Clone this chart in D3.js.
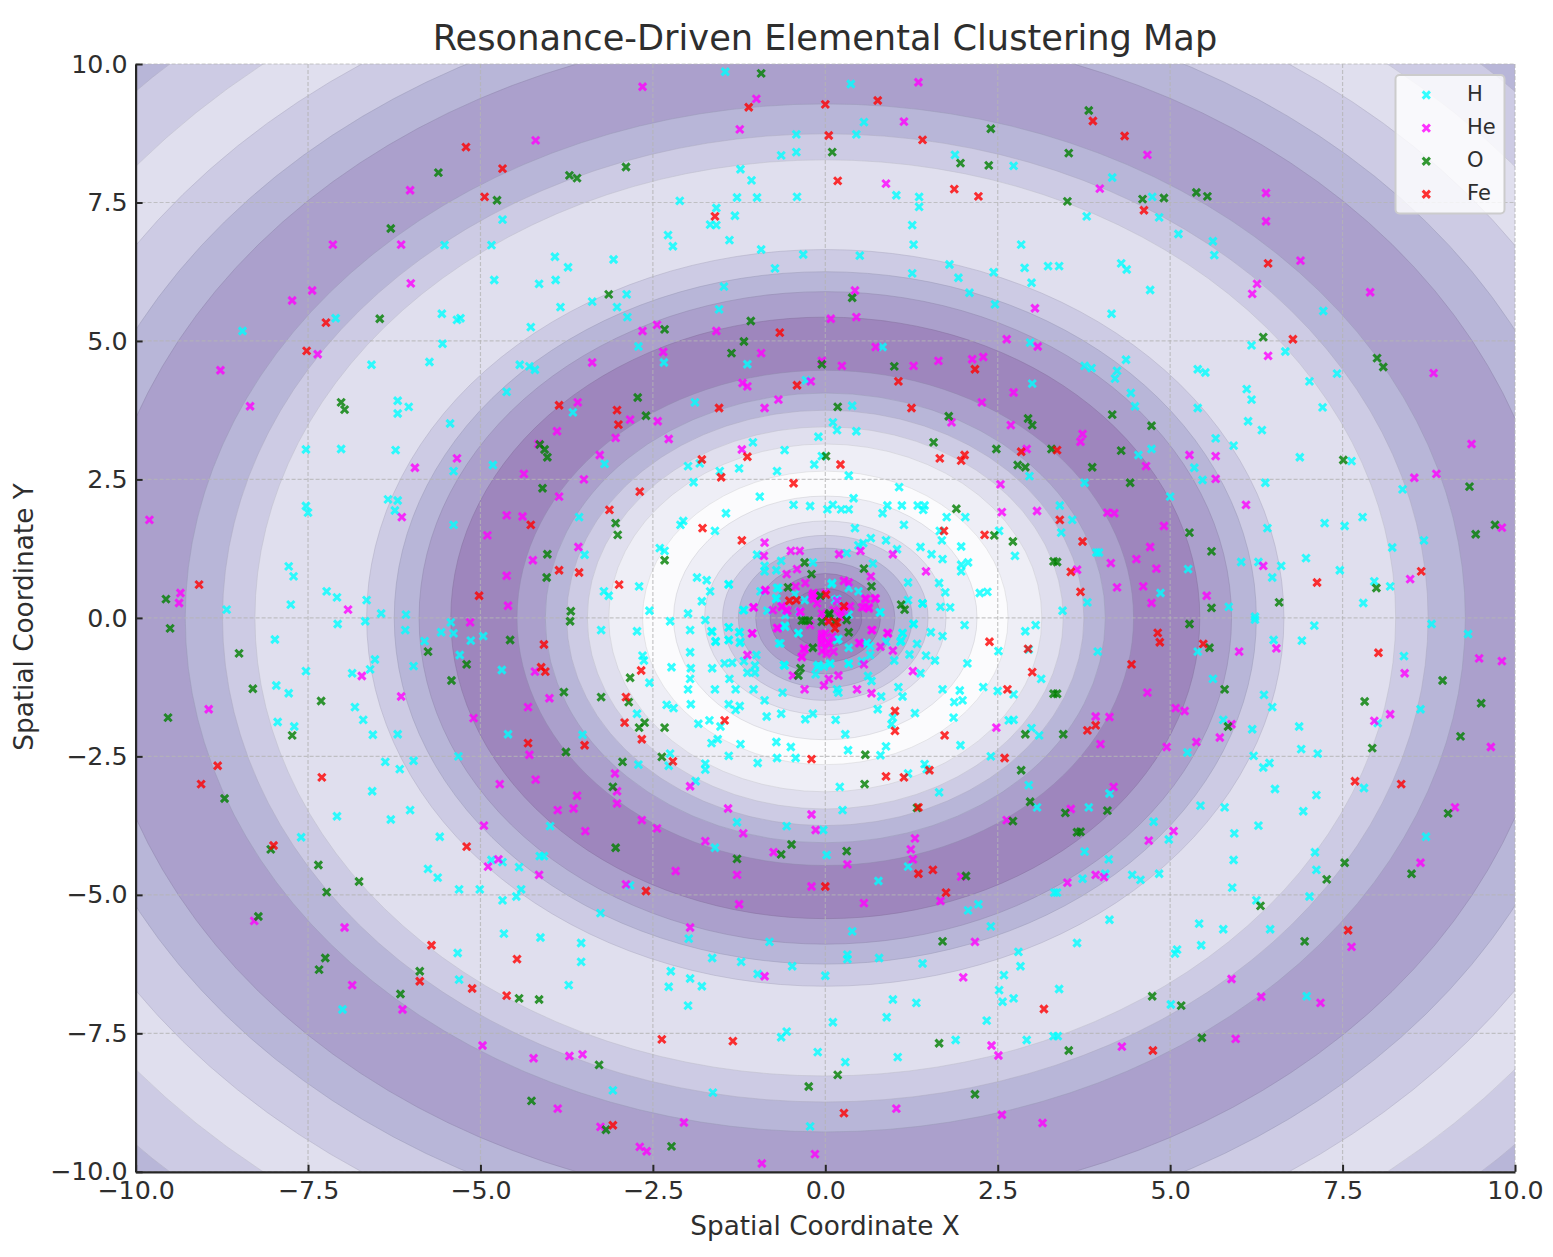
<!DOCTYPE html>
<html>
<head>
<meta charset="utf-8">
<title>Resonance-Driven Elemental Clustering Map</title>
<script src="https://cdn.jsdelivr.net/npm/d3@7"></script>
<style>
html, body { margin: 0; padding: 0; background: #fff; }
svg { display: block; }
text { font-family: "DejaVu Sans", sans-serif; fill: #2e2e2e; }
</style>
</head>
<body>
<svg id="chart" width="1553" height="1257"></svg>
<script>
const titleText = "Resonance-Driven Elemental Clustering Map";
const xLabel = "Spatial Coordinate X";
const yLabel = "Spatial Coordinate Y";
const tickValues = [-10, -7.5, -5, -2.5, 0, 2.5, 5, 7.5, 10];

// contour bands, outside to inside: outer radius and fill
const bandRadius = [14.3, 13.8, 12.9, 12.05, 11.27, 10.63, 9.28, 8.74, 8.27, 6.65, 6.25, 5.89, 5.43, 4.47, 4.06, 3.75, 3.45, 3.14, 2.65, 2.2, 1.75, 1.49, 1.26, 1.01, 0.8, 0.53];
const bandFill = ["#b8b6d8", "#cdcbe4", "#e0dfee", "#cdcbe4", "#b8b6d8", "#aba0cc", "#b8b6d8", "#cdcbe4", "#e0dfee", "#cdcbe4", "#b8b6d8", "#aba0cc", "#9e86bd", "#aba0cc", "#b8b6d8", "#cdcbe4", "#e0dfee", "#eeeef6", "#fbfbfd", "#eeeef6", "#e0dfee", "#cdcbe4", "#b8b6d8", "#aba0cc", "#9e86bd", "#957bb6"];

const hPoints = [
[-4.68,7.19],[-5.52,6.73],[-4.84,6.73],[-3.92,6.52],[-3.73,6.33],[-4.80,6.10],[-4.15,6.03],[-3.91,6.10],[-3.84,5.61],[-3.38,5.71],[-5.56,5.49],[-5.34,5.38],[-5.29,5.41],[-7.10,5.41],[-8.45,5.18],[-4.27,5.25],[-5.55,4.95],[-6.58,4.57],[-5.74,4.62],[-4.43,4.57],[-4.29,4.54],[-4.21,4.48],[-4.62,4.08],[-6.20,3.92],[-6.04,3.81],[-6.20,3.69],[-3.66,3.71],[-5.44,3.51],[-7.53,3.04],[-7.02,3.05],[-6.23,3.03],[-4.82,2.76],[-5.39,2.65],[-6.34,2.14],[-6.20,2.12],[-6.24,1.94],[-7.53,2.02],[-7.50,1.90],[-5.39,1.68],[-3.57,1.82],[-3.49,1.14],[-7.78,0.93],[-7.71,0.75],[-7.23,0.48],[-7.08,0.37],[-6.65,0.32],[-7.75,0.24],[-8.68,0.15],[-6.44,0.08],[-6.08,0.06],
[-1.45,9.86],[0.37,9.64],[0.56,8.95],[-0.42,8.73],[0.45,8.73],[-0.64,8.35],[-0.42,8.41],[1.88,8.36],[2.73,8.16],[-1.23,8.10],[-1.07,7.90],[1.03,7.63],[-1.28,7.59],[-0.99,7.59],[-0.41,7.60],[1.36,7.60],[-2.11,7.53],[1.36,7.42],[-1.58,7.40],[-1.31,7.26],[-1.67,7.10],[-1.58,7.09],[1.26,7.09],[-2.28,6.91],[-2.21,6.71],[-1.39,6.82],[1.28,6.74],[2.84,6.74],[-0.93,6.65],[-0.32,6.56],[0.50,6.54],[-3.07,6.47],[1.80,6.38],[-0.73,6.31],[1.26,6.22],[2.44,6.24],[2.89,6.32],[3.23,6.35],[1.93,6.14],[2.99,6.05],[-1.47,5.98],[-2.88,5.84],[2.09,5.87],[-3.02,5.61],[2.46,5.66],[-1.54,5.57],[-2.87,5.43],[-2.71,4.90],[0.83,4.89],[2.97,4.97],[-2.34,4.61],[-1.13,4.58],[-0.28,4.29],[3.00,4.23],[-1.89,3.89],[0.39,3.83],[0.11,3.53],[0.17,3.39],[0.45,3.37],[-0.10,3.27],[-1.05,3.17],[-0.59,3.03],[-0.05,2.92],[-3.20,2.78],[-1.99,2.74],[-1.82,2.79],[-1.53,2.65],[-1.25,2.70],[-0.70,2.65],[-0.16,2.77],[0.34,2.57],[-1.91,2.45],[2.96,2.56],[1.07,2.36],[-0.95,2.19],[0.41,2.16],[-0.46,2.04],[-0.22,2.02],[0.11,2.04],[0.03,1.96],[0.23,1.96],[0.34,1.96],[0.90,2.03],[0.83,1.89],[1.11,2.03],[1.34,2.03],[1.44,2.03],[1.42,1.95],[-1.44,1.89],[1.76,1.82],[2.03,1.82],[-2.06,1.75],[-2.10,1.68],[1.14,1.68],[-1.60,1.57],[0.43,1.62],[1.66,1.57],[2.52,1.57],[0.66,1.44],[0.88,1.40],[1.69,1.40],[-2.40,1.26],[-2.33,1.21],[1.97,1.29],[0.55,1.35],[0.48,1.31],[1.04,1.24],[1.38,1.28],[1.54,1.15],[2.75,1.12],[0.31,1.17],[-0.99,1.14],[1.70,1.06],[-0.64,1.03],[-0.88,0.94],[-0.18,1.00],[0.69,0.98],[1.97,0.96],[2.07,1.00],[1.97,0.84],[-0.88,0.84],[-0.71,0.86],[-1.86,0.73],[-1.72,0.68],[-1.40,0.61],[-2.70,0.57],[0.09,0.61],[1.20,0.64],[1.65,0.63],[-3.21,0.48],[-3.14,0.40],[-1.67,0.48],[-0.70,0.54],[0.34,0.54],[0.48,0.48],[1.74,0.46],[2.24,0.45],[2.35,0.47],[-1.79,0.30],[-0.71,0.34],[-0.30,0.32],[0.17,0.34],[1.20,0.32],[1.41,0.26],[-2.55,0.13],[-1.99,0.08],[-1.19,0.14],[1.67,0.20],[1.81,0.19],[0.79,0.10],[-0.84,0.13],[0.34,0.06],[-0.44,0.43],[-0.94,0.48],
[4.16,7.95],[4.74,7.60],[3.79,7.25],[4.84,7.23],[5.12,6.93],[5.62,6.80],[5.64,6.55],[3.39,6.35],[4.29,6.40],[4.37,6.29],[4.71,5.92],[4.15,5.49],[7.22,5.54],[6.18,4.92],[6.67,4.81],[3.76,4.55],[3.86,4.51],[4.36,4.66],[4.23,4.46],[4.20,4.32],[5.40,4.49],[5.51,4.43],[7.42,4.41],[7.02,4.27],[4.43,4.06],[6.11,4.13],[6.18,3.94],[4.49,3.82],[5.40,3.79],[7.21,3.80],[6.13,3.55],[6.33,3.39],[5.66,3.24],[5.92,3.11],[4.73,3.05],[4.54,2.94],[6.88,2.90],[7.63,2.83],[5.35,2.71],[5.47,2.49],[6.38,2.44],[3.76,2.44],[8.37,2.32],[5.00,2.19],[3.40,2.03],[3.58,1.77],[7.79,1.82],[7.24,1.71],[7.53,1.66],[6.41,1.62],[3.42,1.54],[8.68,1.40],[8.22,1.27],[3.93,1.18],[3.97,1.18],[6.03,1.01],[6.28,1.01],[6.97,1.08],[5.26,0.88],[6.61,0.94],[7.46,0.86],[6.48,0.73],[7.96,0.66],[8.19,0.57],[4.86,0.45],[3.80,0.28],[7.80,0.27],[5.85,0.20],[3.44,0.13],[6.23,0.02],
[-7.07,-0.11],[-6.67,-0.06],[-5.43,-0.08],[-6.09,-0.22],[-5.57,-0.26],[-5.39,-0.28],[-4.96,-0.33],[-5.14,-0.41],[-7.98,-0.39],[-5.81,-0.42],[-5.30,-0.67],[-6.53,-0.75],[-5.97,-0.87],[-6.60,-0.93],[-6.86,-1.00],[-7.53,-0.96],[-4.69,-0.94],[-7.96,-1.22],[-7.78,-1.36],[-6.82,-1.61],[-6.70,-1.84],[-7.94,-1.88],[-7.70,-1.96],[-6.56,-2.11],[-6.20,-2.10],[-4.60,-2.10],[-3.52,-2.11],[-5.32,-2.50],[-6.38,-2.60],[-5.97,-2.58],[-6.17,-2.73],[-6.57,-3.13],[-6.02,-3.47],[-7.08,-3.58],[-6.30,-3.64],[-7.60,-3.96],[-3.99,-3.76],[-5.59,-3.95],[-4.14,-4.30],[-4.08,-4.30],[-4.84,-4.37],[-4.68,-4.41],[-4.44,-4.50],[-5.76,-4.53],[-5.62,-4.69],[-5.31,-4.90],[-5.01,-4.90],[-4.41,-4.90],[-4.48,-5.03],[-4.68,-5.10],[-4.66,-5.70],[-4.13,-5.77],[-3.54,-5.87],[-5.33,-6.05],[-3.54,-6.21],[-5.31,-6.53],[-3.72,-6.63],[-7.00,-7.07],
[-3.25,-0.22],[-2.73,-0.24],[-2.25,-0.06],[-1.96,-0.22],[-1.65,-0.24],[-1.40,-0.17],[-1.25,-0.26],[-1.59,-0.42],[-1.40,-0.40],[-1.23,-0.43],[-0.59,-0.14],[-0.67,-0.46],[-0.39,-0.27],[0.19,-0.38],[0.34,-0.54],[0.60,-0.45],[0.65,-0.51],[0.88,-0.43],[1.12,-0.27],[1.28,-0.11],[1.33,-0.47],[1.10,-0.41],[1.53,-0.26],[1.70,-0.33],[2.02,-0.13],[2.90,-0.24],[3.05,-0.13],[-1.96,-0.62],[-2.65,-0.68],[-2.63,-0.77],[-2.23,-0.89],[-1.95,-0.91],[-1.64,-0.91],[-1.46,-0.82],[-1.35,-0.81],[-1.18,-0.78],[-1.00,-0.67],[-1.02,-0.86],[-1.02,-0.99],[-1.13,-0.99],[-0.59,-0.86],[-0.12,-0.88],[-0.02,-0.88],[0.07,-0.83],[0.34,-0.83],[0.53,-0.78],[0.65,-0.67],[1.00,-0.77],[1.22,-0.66],[1.46,-0.68],[1.59,-0.77],[1.38,-1.00],[2.06,-0.82],[2.51,-0.60],[2.95,-0.57],[3.13,-1.10],[-2.55,-1.17],[-1.96,-1.10],[-1.99,-1.29],[-1.60,-1.29],[-1.39,-1.10],[-1.30,-1.29],[-1.04,-1.29],[-0.62,-1.35],[-0.14,-1.02],[0.17,-1.29],[0.19,-1.35],[0.62,-1.05],[0.67,-1.14],[1.06,-1.25],[0.81,-1.42],[1.12,-1.42],[1.70,-1.29],[1.95,-1.31],[2.29,-1.25],[2.50,-1.32],[2.73,-1.38],[1.87,-1.52],[1.99,-1.49],[-0.88,-1.49],[-2.30,-1.57],[-2.20,-1.63],[-1.95,-1.56],[-1.40,-1.56],[-1.24,-1.59],[-1.30,-1.66],[-0.85,-1.78],[-0.64,-1.73],[-0.18,-1.73],[-0.29,-1.83],[0.15,-1.84],[0.76,-1.65],[1.30,-1.72],[1.86,-1.80],[0.98,-1.80],[0.96,-1.92],[-2.73,-1.73],[-1.84,-1.91],[-1.68,-1.85],[-1.52,-1.96],[2.66,-1.85],[2.73,-1.84],[2.99,-1.99],[3.10,-2.12],[0.29,-2.10],[-1.56,-2.19],[-1.65,-2.26],[-1.23,-2.28],[-0.71,-2.24],[-0.50,-2.33],[0.88,-2.32],[1.96,-2.30],[0.33,-2.39],[0.80,-2.48],[2.40,-2.50],[-2.25,-2.45],[-1.40,-2.49],[-0.70,-2.53],[-0.43,-2.53],[-0.98,-2.62],[-1.74,-2.63],[-1.74,-2.74],[-2.27,-2.67],[-2.71,-2.65],[1.44,-2.64],[1.20,-2.81],[1.47,-2.73],[-1.88,-2.95],[0.21,-3.05],[1.65,-3.15],[2.95,-3.02],[3.07,-3.42],[0.25,-3.47],[-1.28,-3.69],[-0.56,-3.76],[-0.03,-3.83],[-1.60,-4.15],[0.02,-4.28],[1.20,-4.49],[0.77,-4.75],[-2.83,-4.83],[-3.26,-5.33],[2.22,-5.17],[2.07,-5.28],[2.40,-5.57],[0.39,-5.66],[-1.98,-5.79],[-0.81,-5.85],[0.32,-6.08],[0.32,-6.16],[-1.64,-6.14],[0.78,-6.14],[-1.22,-6.21],[-0.48,-6.29],[1.41,-6.24],[2.80,-6.03],[2.83,-6.29],[-2.24,-6.38],[-0.98,-6.43],[0.00,-6.46],[2.59,-6.45],[-1.96,-6.51],[-2.27,-6.66],[-1.79,-6.65],[2.52,-6.72],[0.98,-6.89],[1.32,-6.95],[2.73,-6.87],[2.57,-6.93],[-1.99,-7.00],[0.89,-7.21],[2.34,-7.27],[0.11,-7.30],[-0.56,-7.47],[-0.64,-7.57],[1.89,-7.62],[2.92,-7.62],[-0.11,-7.84],[0.29,-8.02],[1.05,-7.93],[-3.08,-8.53],[-1.63,-8.57],[-0.22,-9.18],[3.31,-7.55],[3.32,-4.96],
[6.23,-0.03],[7.09,-0.14],[8.79,-0.11],[9.32,-0.29],[6.50,-0.40],[6.91,-0.41],[3.95,-0.61],[5.40,-0.61],[8.39,-0.69],[5.62,-1.10],[6.36,-1.39],[6.48,-1.61],[8.63,-1.65],[5.77,-1.84],[8.01,-1.90],[6.19,-2.01],[6.87,-1.96],[6.90,-2.37],[5.25,-2.43],[7.14,-2.45],[6.21,-2.49],[6.44,-2.62],[6.35,-2.70],[6.52,-3.09],[7.12,-3.20],[7.81,-3.07],[4.12,-3.17],[3.82,-3.42],[5.44,-3.39],[5.79,-3.42],[6.93,-3.49],[6.28,-3.75],[4.76,-3.68],[5.93,-3.89],[8.71,-3.95],[4.98,-4.00],[3.76,-4.22],[7.10,-4.23],[4.11,-4.36],[5.92,-4.37],[7.12,-4.55],[4.84,-4.62],[4.06,-4.62],[4.45,-4.64],[4.57,-4.73],[3.73,-4.71],[5.90,-4.87],[7.02,-5.03],[3.36,-4.96],[6.25,-5.10],[4.12,-5.45],[5.42,-5.52],[5.77,-5.62],[6.45,-5.62],[3.65,-5.87],[5.45,-5.91],[5.10,-5.99],[5.07,-6.06],[3.39,-6.70],[6.98,-6.83],[5.01,-6.98],[3.37,-7.55],
[0.10,0.63],[0.14,0.32],[0.17,-0.40],[0.60,-0.46],[-0.39,-0.28],[-0.58,-0.16],[-0.58,0.05],[-0.65,-0.46],[-0.38,0.11],[-0.71,0.36],[-0.68,0.54],[-1.18,0.14],[-1.40,0.60],[-1.40,-0.17],[-1.40,-0.40],[-1.24,-0.26],[-1.24,-0.45],[-1.59,-0.43],[-1.64,-0.25],[0.80,0.10],[1.28,-0.11],[1.12,-0.28],[1.09,-0.43],[1.41,0.26],[-0.60,-0.85],[-0.10,-0.85],[0.07,-0.82],[0.34,-0.82],[-1.74,-0.04]
];

const hePoints = [
[-4.20,8.62],[-6.02,7.72],[-7.14,6.74],[-6.15,6.74],[-6.01,6.04],[-7.44,5.91],[-7.73,5.73],[-7.36,4.76],[-8.77,4.47],[-8.34,3.82],[-3.59,3.89],[-3.89,3.37],[-4.16,3.14],[-5.34,2.88],[-5.95,2.71],[-4.37,2.60],[-3.50,2.50],[-3.86,2.19],[-6.14,1.82],[-4.62,1.85],[-4.39,1.83],[-9.80,1.77],[-4.90,1.49],[-3.58,1.28],[-4.24,1.04],[-4.62,0.76],[-9.35,0.45],[-9.37,0.27],[-4.60,0.22],[-6.92,0.15],[-3.38,4.61],
[-2.65,9.59],[1.35,9.67],[-1.00,9.37],[-1.24,8.82],[1.14,8.96],[0.88,7.84],[0.43,5.91],[3.04,5.59],[0.08,5.40],[0.45,5.43],[-2.44,5.29],[-2.65,5.18],[-1.58,5.18],[2.63,5.03],[3.08,4.90],[-2.35,4.80],[-0.93,4.78],[0.73,4.89],[-0.05,4.64],[0.24,4.55],[1.28,4.55],[1.64,4.64],[2.13,4.67],[2.29,4.71],[-0.21,4.27],[-1.20,4.24],[-1.13,4.18],[2.73,4.07],[-0.68,3.94],[2.27,3.89],[-0.88,3.79],[-2.83,3.58],[-2.43,3.55],[1.83,3.53],[2.69,3.48],[-3.04,3.25],[-2.27,3.23],[-3.27,2.94],[-1.21,3.04],[2.92,3.05],[2.54,2.41],[2.56,1.91],[3.07,1.93],[-0.88,1.36],[-0.89,1.12],[-0.50,1.21],[-0.37,1.21],[0.20,1.15],[0.51,1.21],[0.98,1.15],[1.46,0.84],[-0.56,0.79],[-0.41,0.88],[-0.29,0.63],[0.66,0.75],[0.27,0.67],[0.34,0.64],[-0.87,0.50],[-0.43,0.57],[-0.18,0.43],[0.58,0.35],[0.73,0.35],[-1.04,0.19],[-0.76,0.14],[0.53,0.19],[0.63,0.19],[-0.63,0.21],[-0.55,0.13],[-0.37,0.11],[-0.17,0.34],[0.17,0.31],[0.36,0.21],[0.22,0.11],[-0.05,0.08],
[4.67,8.36],[3.98,7.75],[6.39,7.67],[6.39,7.16],[6.89,6.45],[6.26,6.03],[6.19,5.85],[7.90,5.88],[6.42,4.73],[8.82,4.42],[3.73,3.32],[3.70,3.18],[4.65,2.74],[5.28,2.94],[5.66,2.92],[5.66,2.51],[9.37,3.14],[8.54,2.53],[8.86,2.60],[6.10,2.04],[4.09,1.90],[4.19,1.89],[4.91,1.66],[9.81,1.63],[4.71,1.28],[4.51,1.06],[4.14,0.99],[4.80,0.89],[3.65,0.87],[6.35,0.94],[8.48,0.70],[4.23,0.55],[4.61,0.57],[5.53,0.40],[4.73,0.27],
[-5.15,-0.08],[-6.72,-1.05],[-4.21,-0.97],[-8.94,-1.65],[-6.15,-1.42],[-4.00,-1.45],[-4.31,-1.61],[-5.10,-1.81],[-4.29,-2.47],[-4.72,-3.00],[-4.20,-2.92],[-3.60,-3.21],[-3.88,-3.47],[-3.65,-3.44],[-3.48,-3.85],[-4.95,-3.75],[-4.74,-4.36],[-4.89,-4.49],[-4.15,-4.64],[-8.28,-5.47],[-6.97,-5.59],[-6.86,-6.63],[-6.13,-7.07],[-4.97,-7.72],[-4.23,-7.95],[-3.71,-7.91],[-3.52,-7.88],[-3.88,-8.86],
[-1.06,-0.28],[-0.70,-0.18],[0.67,-0.22],[0.90,-0.27],[-0.05,-0.29],[-0.05,-0.41],[0.05,-0.45],[0.49,-0.45],[0.80,-0.52],[0.98,-0.59],[-0.30,-0.57],[-1.13,-0.67],[-0.34,-0.71],[0.12,-0.61],[0.56,-0.84],[1.27,-0.96],[0.19,-1.04],[-0.47,-1.04],[0.05,-1.10],[-0.02,-1.22],[-0.30,-1.29],[0.46,-1.29],[0.67,-1.36],[2.48,-1.98],[-1.96,-3.04],[-3.05,-2.81],[-3.02,-3.13],[-3.02,-3.35],[-1.41,-3.44],[-0.20,-3.55],[-0.14,-3.83],[-2.66,-3.65],[-2.44,-3.80],[-1.19,-3.89],[-1.74,-4.03],[-0.75,-4.23],[1.30,-3.98],[1.24,-4.18],[1.27,-4.36],[0.32,-4.45],[-2.17,-4.57],[-1.28,-4.64],[1.97,-4.67],[2.63,-3.65],[-2.89,-4.81],[-0.20,-4.85],[1.67,-5.11],[-1.25,-5.17],[0.56,-5.15],[-1.96,-5.59],[2.17,-5.85],[-0.88,-6.47],[2.00,-6.49],[2.41,-7.72],[2.51,-7.90],[1.03,-8.86],[2.56,-8.97],[3.15,-9.12],[-2.05,-9.11],[-3.26,-9.19],[-2.69,-9.55],[-2.59,-9.63],[-0.92,-9.85],[-0.15,-9.68],
[6.00,-0.61],[6.54,-0.55],[9.48,-0.73],[9.81,-0.78],[8.40,-1.00],[4.67,-1.35],[5.08,-1.63],[5.21,-1.68],[3.92,-1.78],[4.12,-1.79],[5.89,-1.92],[3.99,-2.28],[5.38,-2.24],[5.72,-2.16],[4.95,-2.33],[8.19,-1.74],[7.96,-1.86],[9.65,-2.33],[4.18,-3.05],[3.56,-3.45],[9.13,-3.42],[5.05,-3.85],[4.69,-4.02],[8.63,-4.42],[3.51,-4.78],[3.92,-4.64],[4.04,-4.68],[7.63,-5.94],[5.89,-6.52],[6.32,-6.84],[7.18,-6.95],[5.95,-7.60],[4.30,-7.74],
[0.27,0.14],[0.12,0.14],[0.22,0.02],[0.72,0.35],[0.59,0.34],[-0.17,0.45],[-0.19,0.39],[-0.63,0.20],[-0.57,0.14],[-1.04,0.19],[-0.87,0.50],[-0.22,-0.13],[-0.05,-0.34],[0.10,-0.34],[0.00,-0.04],[0.05,-0.46],[-0.12,0.26],[0.00,0.45],[-0.36,0.11],[-0.31,-0.55],[-0.34,-0.70],[0.50,-0.46],[0.68,-0.22],[0.91,-0.28],[-0.69,-0.19],[-1.06,-0.28],[0.56,0.20],[0.63,0.17],[0.00,-0.28],[-0.05,-0.46],[-0.05,-0.60],[0.00,-0.55],[0.02,-0.65]
];

const oPoints = [
[-5.61,8.04],[-3.71,7.99],[-3.60,7.94],[-4.76,7.54],[-6.30,7.03],[-6.46,5.40],[-7.02,3.89],[-6.97,3.76],[-4.14,3.13],[-4.07,3.04],[-4.03,2.90],[-4.10,2.34],[-4.03,1.15],[-4.04,0.73],[-9.56,0.34],[-3.69,0.12],
[-0.93,9.83],[2.40,8.83],[0.10,8.41],[1.96,8.21],[2.37,8.17],[-2.89,8.14],[0.39,5.78],[-3.14,5.84],[-1.08,5.36],[-2.33,5.21],[-1.18,4.99],[-1.36,4.78],[-0.05,4.58],[1.00,4.54],[-2.72,3.98],[-2.60,3.65],[0.18,3.81],[1.79,3.64],[2.94,3.60],[3.00,3.48],[1.57,3.17],[0.01,2.92],[2.48,3.05],[3.28,3.05],[2.79,2.76],[2.90,2.72],[1.90,1.97],[-3.04,1.71],[-3.01,1.50],[2.45,1.49],[2.72,1.38],[-2.33,1.04],[-0.30,1.00],[0.56,0.89],[-0.20,0.79],[0.67,0.57],[-0.54,0.55],[-0.07,0.40],[1.10,0.24],[1.15,0.15],[3.31,1.02],[0.06,0.08],
[3.82,9.16],[3.53,8.39],[5.38,7.68],[5.54,7.61],[3.51,7.52],[4.60,7.56],[4.91,7.58],[6.35,5.07],[8.00,4.69],[8.09,4.53],[4.16,3.67],[4.73,3.47],[4.29,3.02],[3.87,2.72],[7.51,2.85],[4.42,2.44],[9.34,2.37],[9.71,1.68],[9.43,1.51],[5.28,1.54],[5.60,1.20],[3.36,1.01],[7.99,0.54],[6.58,0.28],[5.60,0.18],
[-9.50,-0.19],[-3.70,-0.06],[-4.57,-0.40],[-5.76,-0.61],[-5.20,-0.84],[-8.50,-0.64],[-5.42,-1.13],[-8.30,-1.28],[-7.31,-1.50],[-9.53,-1.80],[-3.79,-1.34],[-7.73,-2.12],[-3.76,-2.42],[-8.71,-3.26],[-8.04,-4.18],[-7.35,-4.46],[-6.76,-4.76],[-7.23,-4.95],[-8.22,-5.39],[-7.25,-6.14],[-7.34,-6.35],[-5.88,-6.38],[-6.16,-6.79],[-4.44,-6.87],[-4.15,-6.89],[-4.26,-8.72],
[-0.29,-0.05],[0.34,-0.26],[-0.18,-0.54],[-0.36,-0.91],[-0.39,-1.04],[-2.83,-1.08],[-3.25,-1.43],[-2.85,-1.52],[-2.62,-1.89],[-2.70,-1.98],[-2.33,-1.98],[-2.94,-2.60],[-2.37,-2.51],[0.58,-2.47],[0.57,-3.00],[2.90,-2.10],[2.84,-2.75],[-3.08,-3.05],[1.33,-3.43],[2.97,-3.32],[2.72,-3.67],[-3.04,-4.15],[-0.49,-4.09],[-0.64,-4.27],[-1.28,-4.35],[0.31,-4.21],[2.04,-4.66],[1.70,-5.84],[3.31,-1.37],[1.65,-7.68],[-3.28,-8.07],[0.18,-8.25],[-0.24,-8.46],[2.17,-8.60],[-3.18,-9.24],[-2.23,-9.54],
[5.28,-0.11],[5.57,-0.54],[3.36,-1.37],[5.79,-1.29],[8.95,-1.13],[7.82,-1.51],[9.51,-1.54],[3.45,-2.10],[5.84,-1.96],[9.21,-2.14],[7.93,-2.35],[4.09,-3.48],[3.48,-3.52],[9.03,-3.53],[3.65,-3.87],[3.70,-3.86],[7.53,-4.42],[8.50,-4.62],[7.27,-4.72],[6.31,-5.20],[6.95,-5.84],[4.74,-6.83],[5.16,-7.00],[5.46,-7.58],[3.53,-7.81],
[0.05,0.05],[-0.05,-0.07],[0.14,-0.07],[0.31,-0.04],[-0.34,-0.05],[-0.24,-0.05]
];

const fePoints = [
[-5.21,8.50],[-4.68,8.11],[-4.94,7.60],[-7.24,5.33],[-7.52,4.82],[-3.86,3.84],[-4.27,1.68],[-9.08,0.60],[-3.86,0.86],[-3.57,0.82],[-5.02,0.40],
[-1.11,9.22],[0.00,9.27],[0.76,9.34],[0.05,8.71],[1.41,8.63],[0.18,7.89],[1.87,7.74],[2.22,7.61],[-1.60,7.25],[-0.66,5.15],[-0.41,4.20],[1.06,4.27],[2.17,4.49],[-1.54,3.79],[1.25,3.79],[-3.02,3.75],[-3.00,3.49],[-1.79,2.86],[-1.13,2.91],[0.22,2.77],[1.66,2.88],[2.02,2.94],[1.97,2.84],[2.84,3.00],[-1.51,2.54],[-0.46,2.43],[-2.69,2.28],[-3.13,1.95],[-1.78,1.62],[1.72,1.57],[2.31,1.50],[-1.21,1.40],[-2.99,0.60],[0.01,0.42],[-0.52,0.31],[-0.42,0.32],[0.27,0.21],
[3.88,8.97],[4.34,8.70],[4.62,7.36],[6.42,6.40],[6.78,5.03],[3.36,3.03],[3.40,1.77],[3.73,1.38],[3.56,0.83],[3.70,0.47],[7.13,0.64],[8.64,0.84],
[-4.08,-0.48],[-4.12,-0.89],[-4.06,-0.97],[-4.31,-2.26],[-3.49,-2.30],[-8.81,-2.67],[-9.05,-3.00],[-7.30,-2.88],[-5.20,-4.13],[-8.00,-4.11],[-5.71,-5.91],[-4.47,-6.16],[-5.88,-6.56],[-5.12,-6.69],[-4.62,-6.82],
[-2.67,-0.95],[-2.89,-1.43],[-2.91,-1.89],[-2.66,-2.19],[-2.21,-2.59],[-1.46,-1.85],[-0.20,-2.55],[1.01,-1.68],[1.01,-2.04],[1.73,-2.12],[0.88,-2.86],[1.14,-2.88],[1.51,-2.75],[2.38,-0.43],[2.94,-0.56],[3.00,-0.98],[2.64,-1.29],[2.60,-2.53],[1.35,-3.42],[1.56,-4.55],[1.35,-4.62],[1.75,-4.96],[-2.60,-4.93],[0.00,-4.85],[3.17,-7.06],[-2.37,-7.61],[-1.34,-7.64],[0.27,-8.94],[-3.08,-9.16],[0.14,-0.19],[0.05,-0.06],[0.17,-0.08],
[4.82,-0.27],[4.85,-0.44],[5.48,-0.47],[4.44,-0.84],[8.02,-0.63],[3.92,-1.94],[3.80,-2.03],[7.68,-2.95],[8.35,-3.00],[7.58,-5.64],[4.75,-7.81]
];

const seriesNames = ["H", "He", "O", "Fe"];
const seriesColors = ["#00ffff", "#ff00ff", "#008000", "#ff0000"];
const seriesPoints = [hPoints, hePoints, oPoints, fePoints];

const svg = d3.select("#chart");

const plotLeft = 135.6, plotRight = 1515, plotTop = 64, plotBottom = 1171.8;
const x = d3.scaleLinear().domain([-10, 10]).range([plotLeft, plotRight]);
const y = d3.scaleLinear().domain([-10, 10]).range([plotBottom, plotTop]);

svg.append("defs").append("clipPath").attr("id", "plot-clip")
    .append("rect")
    .attr("x", plotLeft)
    .attr("y", plotTop)
    .attr("width", plotRight - plotLeft)
    .attr("height", plotBottom - plotTop);

// Contour bands, biggest first so each one paints over the last
svg.append("g").attr("clip-path", "url(#plot-clip)")
    .selectAll("ellipse")
    .data(bandRadius)
    .join("ellipse")
    .attr("cx", x(0))
    .attr("cy", y(0))
    .attr("rx", d => x(d) - x(0))
    .attr("ry", d => y(0) - y(d))
    .attr("fill", (d, i) => bandFill[i])
    .attr("stroke", (d, i) => d3.color(bandFill[i]).darker(0.5))
    .attr("stroke-opacity", 0.7)
    .attr("stroke-width", 0.7);

// Grid
const grid = svg.append("g").attr("stroke", "#b4b4b4").attr("stroke-opacity", 0.75)
    .attr("stroke-width", 1.2).attr("stroke-dasharray", "4,2");
grid.selectAll("line.v").data(tickValues).join("line").attr("class", "v")
    .attr("x1", d => x(d)).attr("x2", d => x(d))
    .attr("y1", plotTop).attr("y2", plotBottom);
grid.selectAll("line.h").data(tickValues).join("line").attr("class", "h")
    .attr("x1", plotLeft).attr("x2", plotRight)
    .attr("y1", d => y(d)).attr("y2", d => y(d));

// Scatter
const marker = d3.symbol().type(d3.symbolX).size(36);
seriesPoints.forEach((points, i) => {
    svg.append("g").attr("clip-path", "url(#plot-clip)")
        .selectAll("path")
        .data(points)
        .join("path")
        .attr("d", marker)
        .attr("transform", d => "translate(" + x(d[0]) + "," + y(d[1]) + ")")
        .attr("fill", "none")
        .attr("stroke", seriesColors[i])
        .attr("stroke-opacity", 0.8)
        .attr("stroke-width", 3);
});

// Axes
const xAxis = d3.axisBottom(x).tickValues(tickValues).tickFormat(d3.format(".1f")).tickSizeOuter(0).tickSizeInner(-7).tickPadding(9);
const yAxis = d3.axisLeft(y).tickValues(tickValues).tickFormat(d3.format(".1f")).tickSizeOuter(0).tickSizeInner(-7).tickPadding(8);

const gx = svg.append("g").attr("transform", "translate(0," + plotBottom + ")").call(xAxis);
const gy = svg.append("g").attr("transform", "translate(" + plotLeft + ",0)").call(yAxis);
[gx, gy].forEach(g => {
    g.select(".domain").attr("stroke", "#262626").attr("stroke-width", 2.2);
    g.selectAll(".tick line").attr("stroke", "#262626").attr("stroke-width", 2);
    g.selectAll(".tick text").style("font-family", '"DejaVu Sans", sans-serif').style("font-size", "25.3px").attr("fill", "#2e2e2e");
});

// Titles
svg.append("text").attr("x", 825).attr("y", 50).attr("text-anchor", "middle")
    .style("font-size", "35.2px").text(titleText);
svg.append("text").attr("x", 825).attr("y", 1235).attr("text-anchor", "middle")
    .style("font-size", "26.3px").text(xLabel);
svg.append("text").attr("transform", "translate(33,617) rotate(-90)").attr("text-anchor", "middle")
    .style("font-size", "26.3px").text(yLabel);

// Legend
const legend = svg.append("g");
legend.append("rect")
    .attr("x", 1395.5).attr("y", 75).attr("width", 109).attr("height", 138.5)
    .attr("rx", 4).attr("ry", 4)
    .attr("fill", "#fff").attr("fill-opacity", 0.8)
    .attr("stroke", "#cccccc").attr("stroke-width", 2);
seriesNames.forEach((name, i) => {
    const rowY = 95 + i * 33.1;
    legend.append("path")
        .attr("d", marker)
        .attr("transform", "translate(1426.3," + rowY + ")")
        .attr("fill", "none")
        .attr("stroke", seriesColors[i])
        .attr("stroke-opacity", 0.8)
        .attr("stroke-width", 3);
    legend.append("text")
        .attr("x", 1467)
        .attr("y", rowY + 5.8)
        .style("font-size", "21px")
        .text(name);
});
</script>
</body>
</html>
